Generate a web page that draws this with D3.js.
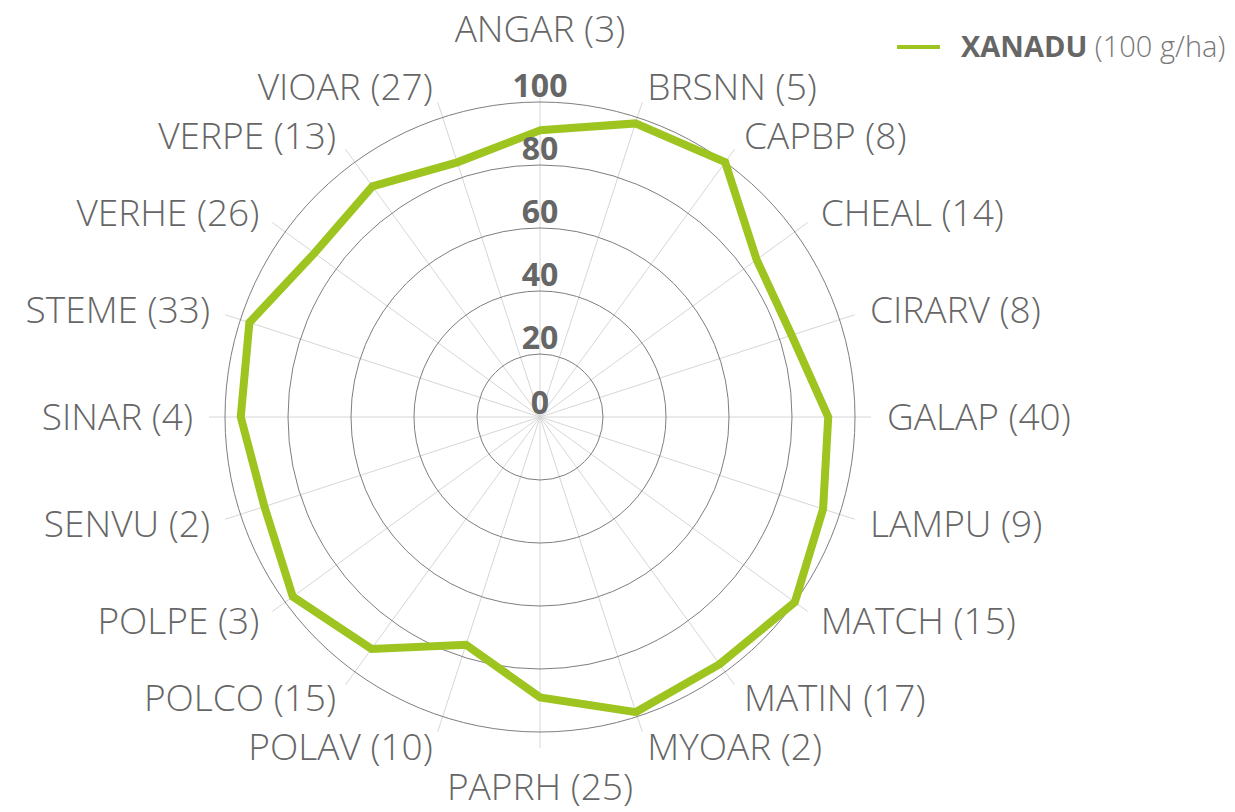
<!doctype html>
<html lang="en">
<head>
  <meta charset="utf-8">
  <title>XANADU radar</title>
  <script src="https://cdn.jsdelivr.net/npm/d3@7"></script>
  <style>
    html, body { margin: 0; padding: 0; background: #fff; }
    svg text { font-family: "Open Sans", sans-serif; }
  </style>
</head>
<body>
  <div id="svg_container"></div>
  <script>
  // species codes, counts shown in brackets, and efficacy values (%)
  var codes  = ["ANGAR", "BRSNN", "CAPBP", "CHEAL", "CIRARV", "GALAP", "LAMPU", "MATCH", "MATIN", "MYOAR",
                "PAPRH", "POLAV", "POLCO", "POLPE", "SENVU", "SINAR", "STEME", "VERHE", "VERPE", "VIOAR"];
  var counts = [3, 5, 8, 14, 8, 40, 9, 15, 17, 2, 25, 10, 15, 3, 2, 4, 33, 26, 13, 27];
  var values = [91, 98, 100, 85, 84, 91.5, 94.5, 100, 97, 98.5, 89, 76, 91, 97, 92, 95, 97, 88.5, 90.5, 85];
  var ticks  = [0, 20, 40, 60, 80, 100];
  var seriesName = "XANADU", seriesDose = "(100 g/ha)";

  var width = 1235, height = 812,
      cx = 540, cy = 417,
      green = "#9dc41f";

  var svg = d3.select("#svg_container").append("svg")
      .attr("width", width)
      .attr("height", height);

  var r = d3.scaleLinear().domain([0, 100]).range([0, 315]);
  var angle = d3.scaleLinear().domain([0, codes.length]).range([0, 2 * Math.PI]);

  var g = svg.append("g").attr("transform", "translate(" + cx + "," + cy + ")");

  // spokes
  g.selectAll("line.spoke")
    .data(codes)
    .enter().append("line")
    .attr("class", "spoke")
    .attr("x1", 0).attr("y1", 0)
    .attr("x2", function(d, i){ return Math.sin(angle(i)) * (r(100) + 16); })
    .attr("y2", function(d, i){ return -Math.cos(angle(i)) * (r(100) + 16); })
    .attr("stroke", "#d6d6d6")
    .attr("stroke-width", 1);

  // grid circles
  g.selectAll("circle.ring")
    .data(ticks.filter(function(t){ return t > 0; }))
    .enter().append("circle")
    .attr("class", "ring")
    .attr("r", function(d){ return r(d); })
    .attr("fill", "none")
    .attr("stroke", "#7e7e7e")
    .attr("stroke-width", 1);

  // series line
  var line = d3.lineRadial()
    .angle(function(d, i){ return angle(i); })
    .radius(function(d){ return r(d); })
    .curve(d3.curveLinearClosed);

  g.append("path")
    .datum(values)
    .attr("d", line)
    .attr("fill", "none")
    .attr("stroke", green)
    .attr("stroke-width", 8)
    .attr("stroke-linejoin", "miter");

  // tick labels
  g.selectAll("text.tick")
    .data(ticks)
    .enter().append("text")
    .attr("class", "tick")
    .attr("x", 0)
    .attr("y", function(d){ return d === 0 ? -3 : -r(d) - 5; })
    .attr("text-anchor", "middle")
    .attr("font-size", 32)
    .attr("font-weight", 700)
    .attr("fill", "#666")
    .text(function(d){ return d; });

  // category labels
  var labelR = 347;
  g.selectAll("text.cat")
    .data(codes)
    .enter().append("text")
    .attr("class", "cat")
    .attr("x", function(d, i){ return Math.sin(angle(i)) * labelR; })
    .attr("y", function(d, i){
      var c = Math.cos(angle(i)), y = -c * labelR;
      if (Math.abs(Math.sin(angle(i))) < 0.1) return c > 0 ? y - 28 : y + 36;
      return y + 13;
    })
    .attr("text-anchor", function(d, i){
      var s = Math.sin(angle(i));
      return s > 0.1 ? "start" : (s < -0.1 ? "end" : "middle");
    })
    .attr("font-size", 37)
    .attr("font-weight", 300)
    .attr("fill", "#666")
    .text(function(d, i){ return d + " (" + counts[i] + ")"; });

  // legend
  var legend = svg.append("g").attr("transform", "translate(897,47)");
  legend.append("line")
    .attr("x1", 0).attr("x2", 43)
    .attr("y1", 0).attr("y2", 0)
    .attr("stroke", green)
    .attr("stroke-width", 4);
  var lt = legend.append("text")
    .attr("x", 64)
    .attr("y", 10)
    .attr("font-size", 29)
    .attr("fill", "#666");
  lt.append("tspan").attr("font-weight", 700).text(seriesName);
  lt.append("tspan").attr("font-weight", 300).attr("fill", "#777").text(" " + seriesDose);
  </script>
</body>
</html>
